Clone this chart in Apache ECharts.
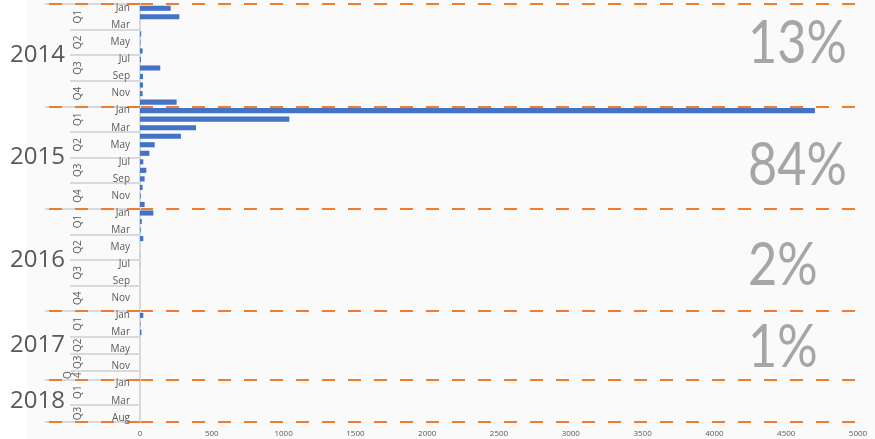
<!DOCTYPE html>
<html>
<head>
<meta charset="utf-8">
<script src="https://cdn.jsdelivr.net/npm/echarts@6/dist/echarts.min.js"></script>
<style>
html,body{margin:0;padding:0;background:#ffffff;}
#chart{width:875px;height:439px;}
</style>
</head>
<body>
<div id="chart"></div>
<script>
// ---- data ----
const yearLabels = ['2014', '2015', '2016', '2017', '2018'];
const yearRowCounts = [12, 12, 12, 8, 5];
const quarterLabels = ['Q1','Q2','Q3','Q4', 'Q1','Q2','Q3','Q4', 'Q1','Q2','Q3','Q4', 'Q1','Q2','Q3','Q\n4', 'Q1','Q3'];
const quarterRowCounts = [3,3,3,3, 3,3,3,3, 3,3,3,3, 3,2,2,1, 3,2];
const monthLabels = [
  'Jan','Feb','Mar','Apr','May','Jun','Jul','Aug','Sep','Oct','Nov','Dec',
  'Jan','Feb','Mar','Apr','May','Jun','Jul','Aug','Sep','Oct','Nov','Dec',
  'Jan','Feb','Mar','Apr','May','Jun','Jul','Aug','Sep','Oct','Nov','Dec',
  'Jan','Feb','Mar','Apr','May','Jul','Nov','Dec',
  'Jan','Feb','Mar','Jul','Aug'
];
const values = [
  214, 274, 0, 8, 3, 18, 7, 141, 21, 21, 18, 255,
  4700, 1040, 390, 285, 102, 65, 23, 44, 32, 18, 5, 32,
  93, 12, 5, 23, 0, 1, 1, 0, 0, 0, 0, 0,
  23, 3, 10, 0, 0, 0, 0, 0,
  0, 0, 0, 0, 0
];
const shareLabels = ['13%', '84%', '2%', '1%'];

// ---- derived helpers ----
const rowKeys = monthLabels.map((m, i) => i + '|' + m);
const nRows = monthLabels.length;
function boundaries(counts) {
  const s = new Set([0]); let acc = 0;
  counts.forEach(c => { acc += c; s.add(acc); });
  return s;
}
function centers(counts, labels) {
  const map = {}; let acc = 0;
  counts.forEach((c, i) => { map[(acc + c / 2).toFixed(1)] = labels[i]; acc += c; });
  return map;
}
const quarterBounds = boundaries(quarterRowCounts);
const yearBounds = boundaries(yearRowCounts);
const quarterCenters = centers(quarterRowCounts, quarterLabels);
const yearCenters = centers(yearRowCounts, yearLabels);

const GRID = {left: 140, right: 17, top: 4, bottom: 17};
const txt = '#595959';
const sepGray = '#D9D9D9';
const orange = '#ED7D31';

const chart = echarts.init(document.getElementById('chart'), null, {renderer: 'canvas'});

function catAxis(extra) {
  return Object.assign({
    type: 'category', data: rowKeys, inverse: true, position: 'left', offset: 0,
    boundaryGap: true,
    axisLine: {show: false}, axisTick: {show: false}, axisLabel: {show: false}, splitLine: {show: false}
  }, extra);
}
function valAxis(extra) {
  return Object.assign({
    type: 'value', min: 0, max: nRows, interval: 0.5, inverse: true, position: 'left', offset: 0,
    axisLine: {show: false}, axisTick: {show: false}, splitLine: {show: false}
  }, extra);
}

const option = {
  backgroundColor: '#ffffff',
  animation: false,
  grid: GRID,
  graphic: [
    {type: 'rect', z: -10, silent: true, shape: {x: 27, y: 0, width: 848, height: 439}, style: {fill: '#FAFAFA'}}
  ].concat(shareLabels.map((t, i) => ({
    type: 'text', z: 10, silent: true,
    x: 748, y: [44, 166, 266, 348][i], scaleX: 0.84,
    style: {text: t, fontSize: 60, fontFamily: 'Lato', fontWeight: 'normal', fill: '#A6A6A6', align: 'left', verticalAlign: 'middle'}
  }))),
  xAxis: {
    type: 'value', min: 0, max: 5000, interval: 500,
    axisLine: {show: false}, axisTick: {show: false}, splitLine: {show: false},
    axisLabel: {fontSize: 8, color: txt, margin: 8, fontFamily: 'Open Sans', formatter: (v) => String(v)}
  },
  yAxis: [
    // 0: month axis with quarter separators
    catAxis({
      axisLine: {show: true, lineStyle: {color: sepGray, width: 2}},
      axisTick: {show: true, length: 70, interval: (i) => quarterBounds.has(i), lineStyle: {color: sepGray, width: 2}},
      axisLabel: {show: true, interval: 1, fontSize: 10, color: txt, margin: 10, fontFamily: 'Open Sans',
        formatter: (v) => v.split('|')[1]}
    }),
    // 1: gray year separators in label area
    catAxis({
      axisTick: {show: true, length: 95, interval: (i) => yearBounds.has(i), lineStyle: {color: sepGray, width: 2}}
    }),
    // 2: orange dashed year separators
    catAxis({
      axisTick: {show: true, length: 95, interval: (i) => yearBounds.has(i), lineStyle: {color: orange, width: 2, type: [13, 13]}},
      splitLine: {show: true, interval: (i) => yearBounds.has(i), lineStyle: {color: orange, width: 2, type: [13, 13]}}
    }),
    // 3: quarter labels
    valAxis({
      axisLabel: {show: true, rotate: 90, fontSize: 10, color: txt, margin: 57, fontFamily: 'Open Sans',
        formatter: (v) => quarterCenters[v.toFixed(1)] || ''}
    }),
    // 4: year labels
    valAxis({
      axisLabel: {show: true, fontSize: 24, color: txt, margin: 75, fontFamily: 'Open Sans',
        formatter: (v) => yearCenters[v.toFixed(1)] || ''}
    })
  ],
  series: [{
    type: 'bar', yAxisIndex: 0, data: values,
    barCategoryGap: '40%',
    itemStyle: {color: '#4472C4'}
  }]
};
chart.setOption(option);
</script>
</body>
</html>
